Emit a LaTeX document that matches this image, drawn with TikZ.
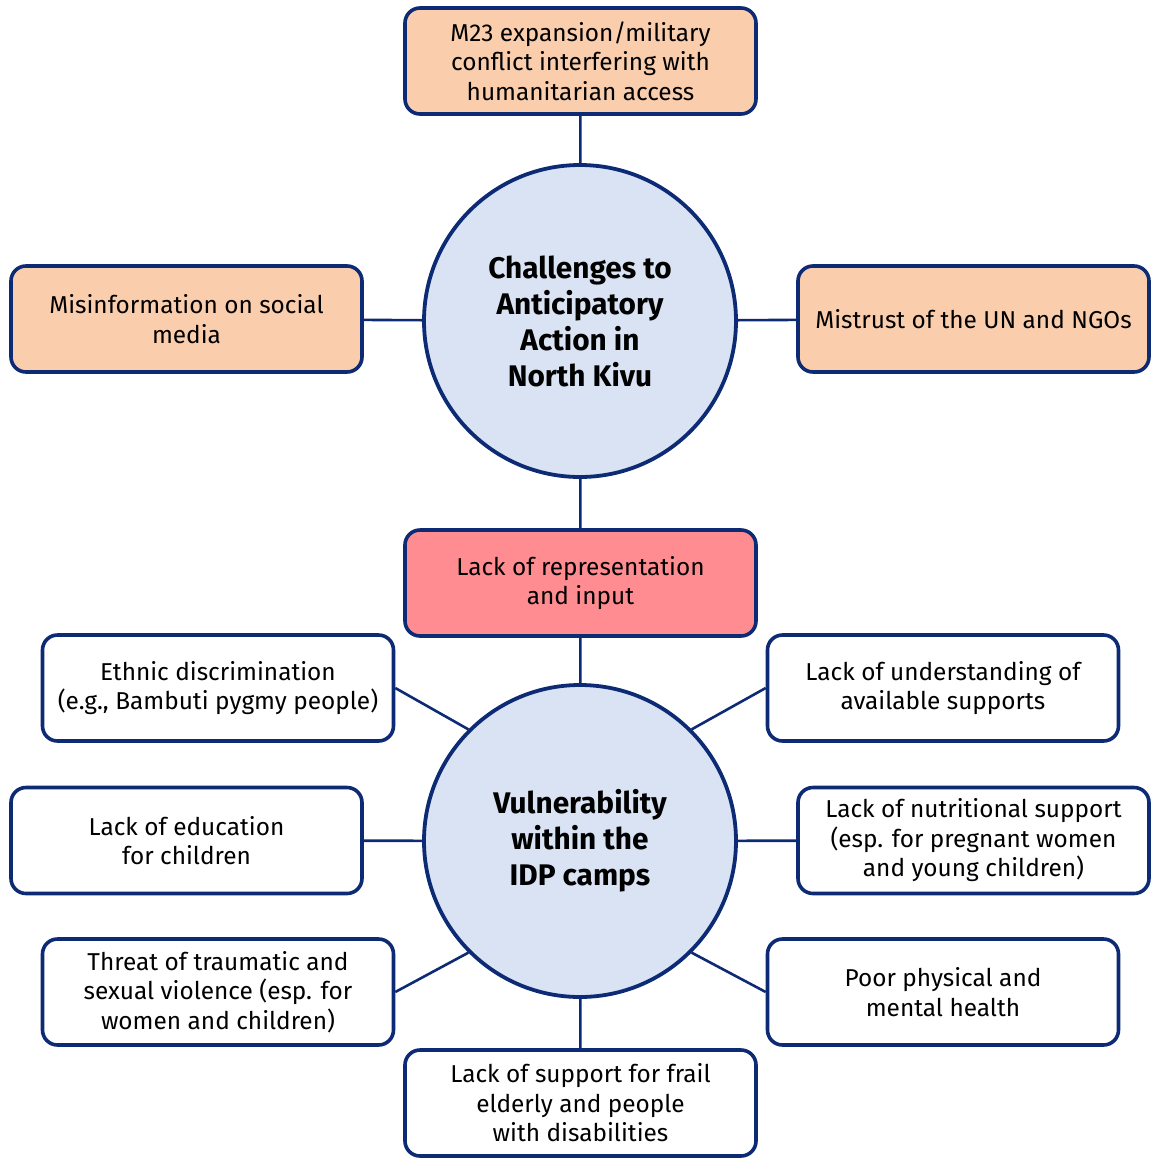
\documentclass[tikz,border=0pt]{standalone}
\usepackage{fontspec}
\setmainfont{Fira Sans}
\usetikzlibrary{positioning}
\definecolor{navy}{HTML}{0D2A75}
\definecolor{peach}{HTML}{FACDAC}
\definecolor{alarm}{HTML}{FF8C91}
\definecolor{hubfill}{HTML}{DAE3F3}
\tikzset{
factor/.style={rectangle, rounded corners=7.5pt, draw=navy, line width=1.8pt, fill=white, minimum width=175.5pt, minimum height=53pt, align=center, inner sep=2pt, font=\fontsize{12.2}{14.75}\selectfont},
challenge/.style={factor, fill=peach},
critical/.style={factor, fill=alarm},
hub/.style={circle, minimum size=156pt, draw=navy, line width=1.9pt, fill=hubfill, align=center, inner sep=0pt, font=\fontsize{14.9}{18}\selectfont\bfseries},
connect/.style={draw=navy, line width=1.3pt}
}

\begin{document}
\begin{tikzpicture}[x=0.5pt, y=-0.5pt]
        \useasboundingbox (0,0) rectangle (1151,1163);
        % challenges
        \node[hub] (challenges) at (580,321) {Challenges to\\Anticipatory\\Action in\\North Kivu};
        \node[challenge] (m23) at (580.5,61) {M23 expansion/military\\conflict interfering with\\humanitarian access};
        \node[challenge] (misinfo) at (186.5,319) {Misinformation on social\\media};
        \node[challenge] (mistrust) at (973.5,319) {Mistrust of the UN and NGOs};
        \node[critical] (represent) at (580.5,583) {Lack of representation\\and input};

        % vulnerability
        \node[hub] (vulnerable) at (580,841) {Vulnerability\\within the\\IDP camps};
        \node[factor] (ethnic) at (218,688) {Ethnic discrimination\\(e.g., Bambuti pygmy people)};
        \node[factor] (supports) at (943,688) {Lack of understanding of\\available supports};
        \node[factor] (education) at (186.5,840.5) {Lack of education\\for children};
        \node[factor] (nutrition) at (973.5,840.5) {Lack of nutritional support\\(esp. for pregnant women\\and young children)};
        \node[factor] (violence) at (218,992) {Threat of traumatic and\\sexual violence (esp. for\\women and children)};
        \node[factor] (health) at (943,992) {Poor physical and\\mental health};
        \node[factor] (elderly) at (580.5,1103) {Lack of support for frail\\elderly and people\\with disabilities};

        \draw[connect] (m23) -- (challenges);
        \draw[connect] (misinfo) -- (challenges);
        \draw[connect] (mistrust) -- (challenges);
        \draw[connect] (challenges) -- (represent);
        \draw[connect] (represent) -- (vulnerable);
        \draw[connect] (ethnic.east) -- (vulnerable.135);
        \draw[connect] (supports.west) -- (vulnerable.45);
        \draw[connect] (education) -- (vulnerable);
        \draw[connect] (nutrition) -- (vulnerable);
        \draw[connect] (violence.east) -- (vulnerable.225);
        \draw[connect] (health.west) -- (vulnerable.315);
        \draw[connect] (vulnerable) -- (elderly);
    \end{tikzpicture}
\end{document}
